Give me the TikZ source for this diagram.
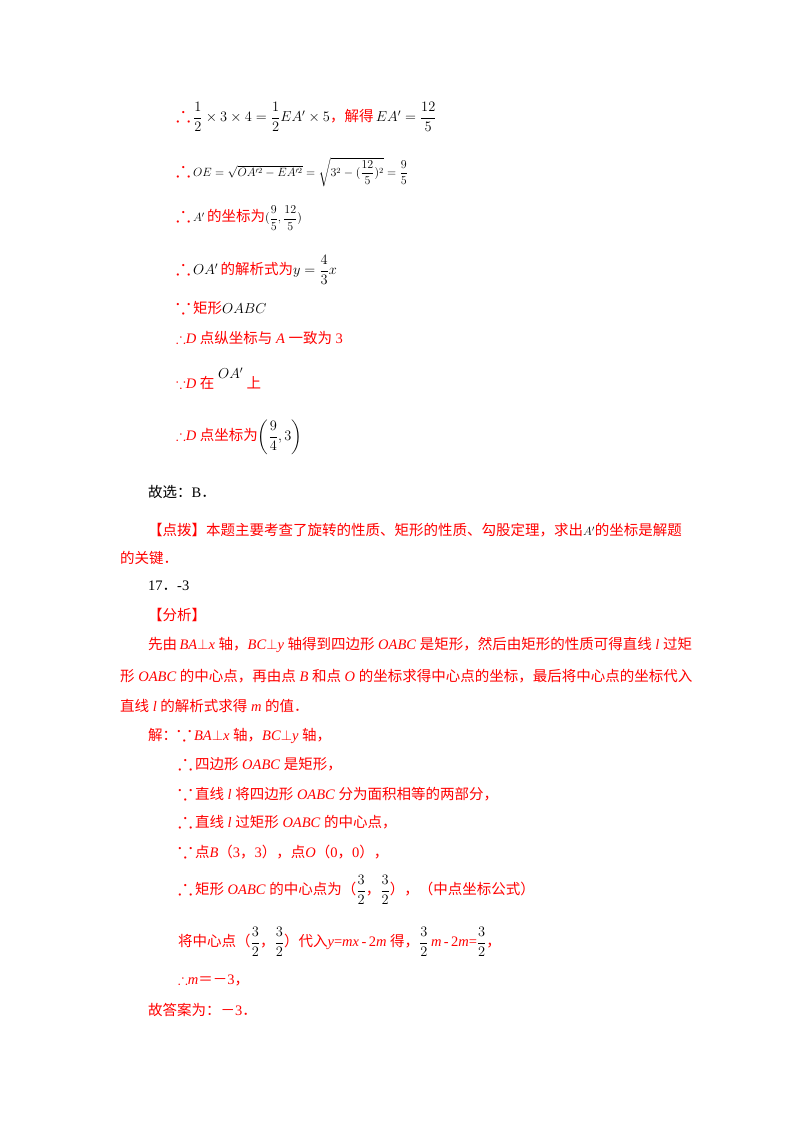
\documentclass[tikz,border=0pt]{standalone}
\usepackage{amsmath,amssymb,graphicx}
\usepackage{fontspec}
\setmainfont{Liberation Serif}
\newfontfamily\cjk{Noto Sans CJK SC}
\definecolor{rd}{RGB}{255,0,0}
\newcommand{\tf}{{\color{rd}\scalebox{1.5}{$\therefore$}\,}}
\newcommand{\bc}{{\color{rd}\scalebox{1.5}{$\because$}\,}}
\newcommand{\smf}{\fontsize{12}{14}\selectfont}
\begin{document}
\begin{tikzpicture}[x=1pt,y=-1pt,
  ln/.style={anchor=west,inner sep=0pt,font=\fontsize{14.5}{17}\selectfont},
  r/.style={ln,text=rd}]
\useasboundingbox[fill=white] (0,0) rectangle (800,1132);
\node[ln] (a1) at (176,117) {\tf$\dfrac12\times3\times4=\dfrac12EA'\times5${\color{rd}{\cjk ，解得}}\,$EA'=\dfrac{12}{5}$};
\node[ln] (a2) at (176,172) {\tf{\smf$OE=\sqrt{OA'^2-EA'^2}=\sqrt{3^2-(\dfrac{12}{5})^2}=\dfrac95$}};
\node[ln] (a3) at (176,218) {\tf{\smf$A'$}\,{\color{rd}\cjk 的坐标为}{\smf$(\dfrac95,\dfrac{12}5)$}};
\node[ln] (a4) at (176,270) {\tf$OA'$\,{\color{rd}\cjk 的解析式为}$y=\dfrac43x$};
\node[ln] (a5) at (176,307) {\bc{\color{rd}\cjk 矩形}$OABC$};
\node[r] (a6) at (176,338) {$\therefore$\textit{D} {\cjk 点纵坐标与} \textit{A} {\cjk 一致为} 3};
\node[r] (a7) at (176,379) {$\because$\textit{D} {\cjk 在}\ \raisebox{10pt}{\color{black}$OA'$}\ {\cjk 上}};
\node[r] (a8) at (176,437) {$\therefore$\textit{D} {\cjk 点坐标为}{\color{black}$\left(\dfrac94,3\right)$}};
\node[ln] (b1) at (148,492) {{\cjk 故选：}B{\cjk ．}};
\node[r] (b2) at (148,530) {{\cjk 【点拨】本题主要考查了旋转的性质、矩形的性质、勾股定理，求出}{\color{black}\smf$A'$}{\cjk 的坐标是解题}};
\node[r] (b3) at (120,558) {{\cjk 的关键．}};
\node[ln] (b4) at (148,586) {17{\cjk ．}-3};
\node[r] (b5) at (148,615) {\cjk 【分析】};
\node[r] (b6) at (148,645) {{\cjk 先由}\,\textit{BA}$\perp$\textit{x} {\cjk 轴，}\textit{BC}$\perp$\textit{y} {\cjk 轴得到四边形} \textit{OABC} {\cjk 是矩形，然后由矩形的性质可得直线} \textit{l} {\cjk 过矩}};
\node[r] (b7) at (120,676) {{\cjk 形} \textit{OABC} {\cjk 的中心点，再由点} \textit{B} {\cjk 和点} \textit{O} {\cjk 的坐标求得中心点的坐标，最后将中心点的坐标代入}};
\node[r] (b8) at (120,706) {{\cjk 直线} \textit{l} {\cjk 的解析式求得} \textit{m} {\cjk 的值．}};
\node[r] (c1) at (148,735) {{\cjk 解：}\bc\textit{BA}$\perp$\textit{x} {\cjk 轴，}\textit{BC}$\perp$\textit{y} {\cjk 轴，}};
\node[r] (c2) at (178,763) {\tf{\cjk 四边形} \textit{OABC} {\cjk 是矩形，}};
\node[r] (c3) at (178,793) {\bc{\cjk 直线} \textit{l} {\cjk 将四边形} \textit{OABC} {\cjk 分为面积相等的两部分，}};
\node[r] (c4) at (178,821) {\tf{\cjk 直线} \textit{l} {\cjk 过矩形} \textit{OABC} {\cjk 的中心点，}};
\node[r] (c5) at (178,851) {\bc{\cjk 点}\textit{B}{\cjk （}3{\cjk ，}3{\cjk ），点}\textit{O}{\cjk （}0{\cjk ，}0{\cjk ），}};
\node[r] (c6) at (178,890) {\tf{\cjk 矩形} \textit{OABC} {\cjk 的中心点为（}{\color{black}$\dfrac32$}{\cjk ，}{\color{black}$\dfrac32$}{\cjk ），（中点坐标公式）}};
\node[r] (c7) at (178,942) {{\cjk 将中心点（}{\color{black}$\dfrac32$}{\cjk ，}{\color{black}$\dfrac32$}{\cjk ）代入}\textit{y}={\textit{mx}}\,-\,2\textit{m} {\cjk 得，}{\color{black}$\dfrac32$}\,\textit{m}\,-\,2\textit{m}={\color{black}$\dfrac32$}{\cjk ，}};
\node[r] (c8) at (178,980) {$\therefore$\textit{m}{\cjk ＝－}3{\cjk ，}};
\node[r] (c9) at (148,1010) {{\cjk 故答案为：－}3{\cjk ．}};
\end{tikzpicture}
\end{document}
